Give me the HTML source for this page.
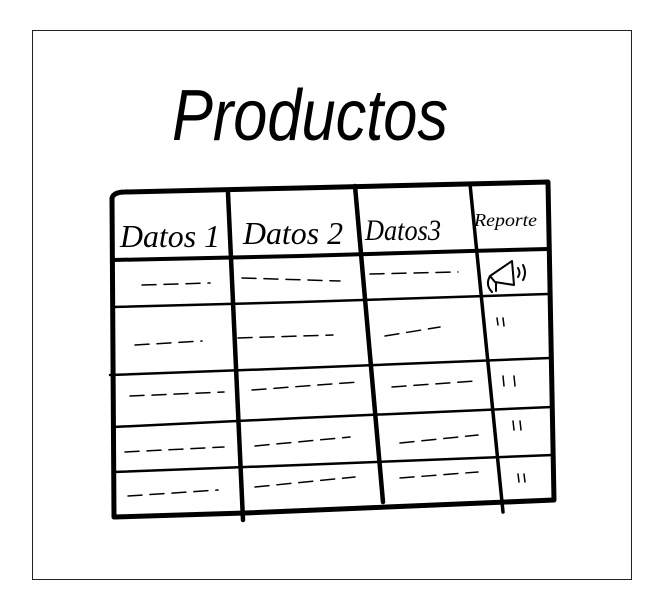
<!DOCTYPE html>
<html><head><meta charset="utf-8"><style>
html,body{margin:0;padding:0;background:#fff;width:651px;height:608px;overflow:hidden}
</style></head><body>
<svg width="651" height="608" viewBox="0 0 651 608" xmlns="http://www.w3.org/2000/svg">
<rect x="32.5" y="30.5" width="599" height="549" fill="#fff" stroke="#222" stroke-width="1"/>
<text x="172" y="140" font-family="Liberation Sans, sans-serif" font-style="italic" font-size="72" textLength="276" lengthAdjust="spacingAndGlyphs" fill="#000">Productos</text>
<g fill="none" stroke="#000" stroke-linecap="round" stroke-linejoin="round">
<path d="M112,198 Q114,192 125,192 L300,188 L548,182 L554,500 L245,513 L114,517 L112,198 Z" stroke-width="5"/>
<path d="M113,260 L300,256 L470,251 L548,249" stroke-width="4"/>
<path d="M228,193 L243,520" stroke-width="4.5"/>
<path d="M355,186 L383,502" stroke-width="4.5"/>
<path d="M470,184 L503,512" stroke-width="3.5"/>
<path d="M113,307 L300,302 L548,294" stroke-width="2.5"/>
<path d="M110,375 L300,368 L550,358" stroke-width="2.5"/>
<path d="M113,427 L300,418 L552,407" stroke-width="2.5"/>
<path d="M113,472 L300,465 L553,455" stroke-width="2.5"/>
<g stroke-width="1.5" stroke-dasharray="14 8">
<path d="M142,285 L210,283"/><path d="M242,278 L340,281"/><path d="M370,274 L458,272"/>
<path d="M135,345 L202,341"/><path d="M238,338 L333,335"/><path d="M385,336 L440,327"/>
<path d="M130,396 L224,392"/><path d="M252,390 L358,382"/><path d="M392,387 L476,381"/>
<path d="M125,452 L224,447"/><path d="M255,446 L350,437"/><path d="M400,443 L478,435"/>
<path d="M128,496 L218,490"/><path d="M255,487 L355,477"/><path d="M400,478 L478,472"/>
</g>
<g stroke-width="1.5">
<path d="M497,318 L498,325 M503,318 L504,326"/>
<path d="M503,376 L504,386 M514,376 L515,386"/>
<path d="M513,421 L514,430 M520,421 L521,430"/>
<path d="M518,474 L519,482 M524,474 L525,482"/>
</g>
<path d="M490,276 L512,261 L514,285 L495,282 Z M490,276 Q485,285 492,292 M496,282 L496,291 M518,268 Q521,273 518,277 M523,265 Q527,273 523,280" stroke-width="2"/>
</g>
<g font-family="Liberation Serif, serif" font-style="italic" fill="#000">
<text x="120" y="247" font-size="32" textLength="100" lengthAdjust="spacingAndGlyphs">Datos 1</text>
<text x="243" y="244" font-size="32" textLength="100" lengthAdjust="spacingAndGlyphs">Datos 2</text>
<text x="365" y="240" font-size="30" textLength="76" lengthAdjust="spacingAndGlyphs">Datos3</text>
<text x="474" y="226" font-size="18" textLength="63" lengthAdjust="spacingAndGlyphs">Reporte</text>
</g>
</svg>
</body></html>
